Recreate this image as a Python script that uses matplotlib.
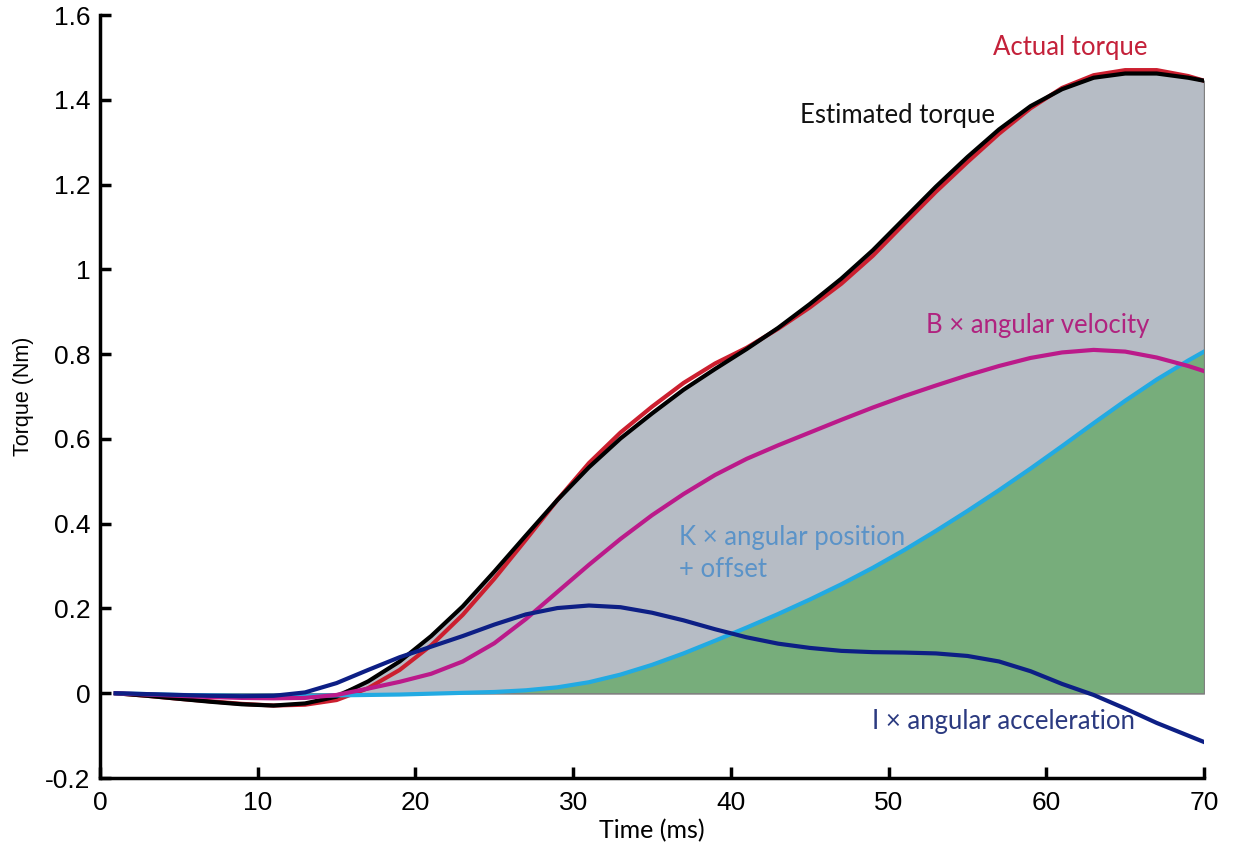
import matplotlib
matplotlib.use("Agg")
import matplotlib.pyplot as plt

# time (ms)
t = [1, 3, 5, 7, 9, 11, 13, 15, 17, 19, 21, 23, 25, 27, 29, 31, 33, 35,
     37, 39, 41, 43, 45, 47, 49, 51, 53, 55, 57, 59, 61, 63, 65, 67, 69, 70]

estimated = [0, -0.006, -0.013, -0.020, -0.026, -0.029, -0.024, -0.008, 0.028,
             0.075, 0.135, 0.205, 0.287, 0.372, 0.456, 0.533, 0.601, 0.66,
             0.716, 0.765, 0.812, 0.862, 0.918, 0.978, 1.045, 1.12, 1.195, 1.265,
             1.33, 1.385, 1.425, 1.452, 1.462, 1.462, 1.452, 1.445]

actual = [0, -0.006, -0.013, -0.019, -0.025, -0.029, -0.027, -0.016, 0.012,
          0.055, 0.113, 0.185, 0.27, 0.362, 0.456, 0.543, 0.615, 0.676,
          0.732, 0.778, 0.815, 0.86, 0.91, 0.966, 1.032, 1.108, 1.183, 1.253,
          1.32, 1.38, 1.428, 1.458, 1.47, 1.47, 1.456, 1.445]

b_velocity = [0, -0.003, -0.006, -0.009, -0.011, -0.012, -0.011, -0.004, 0.011,
              0.027, 0.046, 0.075, 0.118, 0.175, 0.239, 0.303, 0.364, 0.42,
              0.47, 0.515, 0.553, 0.585, 0.615, 0.645, 0.674, 0.701, 0.726, 0.75,
              0.772, 0.791, 0.804, 0.81, 0.806, 0.792, 0.772, 0.76]

k_position = [0, -0.002, -0.004, -0.005, -0.006, -0.006, -0.006, -0.005, -0.004,
              -0.003, -0.001, 0.001, 0.003, 0.007, 0.014, 0.026, 0.044, 0.067,
              0.094, 0.124, 0.155, 0.187, 0.221, 0.257, 0.296, 0.338, 0.383, 0.43,
              0.479, 0.53, 0.583, 0.637, 0.69, 0.74, 0.785, 0.806]

i_accel = [0, -0.002, -0.004, -0.006, -0.007, -0.006, 0.002, 0.024, 0.055,
           0.085, 0.11, 0.135, 0.162, 0.186, 0.201, 0.207, 0.203, 0.19,
           0.172, 0.151, 0.132, 0.117, 0.107, 0.1, 0.097, 0.096, 0.094, 0.088,
           0.075, 0.052, 0.022, -0.004, -0.036, -0.07, -0.1, -0.115]

xticks = [0, 10, 20, 30, 40, 50, 60, 70]
yticks = [-0.2, 0, 0.2, 0.4, 0.6, 0.8, 1, 1.2, 1.4, 1.6]
ytick_labels = ['-0.2', '0', '0.2', '0.4', '0.6', '0.8', '1', '1.2', '1.4', '1.6']

fig = plt.figure(figsize=(12.33, 8.48), dpi=100)
ax = fig.add_axes([0.0811, 0.0825, 0.8954, 0.8998])

pos_est = [max(v, 0) for v in estimated]
pos_k = [max(v, 0) for v in k_position]
ax.fill_between(t, 0, pos_est, color='#b6bcc5', edgecolor='#808080', lw=1, zorder=1)
ax.fill_between(t, 0, pos_k, color='#77ad7b', edgecolor='#808080', lw=1, zorder=2)

ax.plot(t, actual, color='#cc1f2f', lw=3, zorder=3, solid_joinstyle='round')
ax.plot(t, estimated, color='black', lw=3, zorder=4, solid_joinstyle='round')
ax.plot(t, k_position, color='#22aae2', lw=3, zorder=5, solid_joinstyle='round')
ax.plot(t, b_velocity, color='#bb1a8a', lw=3, zorder=6, solid_joinstyle='round')
ax.plot(t, i_accel, color='#0d1f85', lw=3, zorder=7, solid_joinstyle='round')

lab = dict(family='Lato', fontsize=18.5)
ax.text(56.6, 1.523, 'Actual torque', color='#c4213a', ha='left', va='center', **lab)
ax.text(44.4, 1.364, 'Estimated torque', color='#111111', ha='left', va='center', **lab)
ax.text(52.4, 0.867, 'B \u00d7 angular velocity', color='#b0237f', ha='left', va='center', **lab)
ax.text(36.7, 0.33, 'K \u00d7 angular position\n+ offset', color='#5b93c8', ha='left', va='center',
        linespacing=1.32, **lab)
ax.text(48.95, -0.067, 'I \u00d7 angular acceleration', color='#2b3a80', ha='left', va='center', **lab)

ax.set_xlim(0, 70)
ax.set_ylim(-0.2, 1.6)
ax.set_xticks(xticks)
ax.set_yticks(yticks)
ax.set_xticklabels([str(v) for v in xticks], family='Liberation Sans', fontsize=19)
ax.set_yticklabels(ytick_labels, family='Liberation Sans', fontsize=19)
ax.tick_params(direction='in', length=8, width=2.5)
ax.tick_params(axis='x', pad=9)
ax.tick_params(axis='y', pad=7)
for s in ['top', 'right']:
    ax.spines[s].set_visible(False)
for s in ['left', 'bottom']:
    ax.spines[s].set_linewidth(2.5)

ax.set_xlabel('Time (ms)', family='Lato', fontsize=18, labelpad=3)
ax.set_ylabel('Torque (Nm)', family='Liberation Sans', fontsize=15.5, labelpad=8)

fig.savefig('out.png', dpi=100)
